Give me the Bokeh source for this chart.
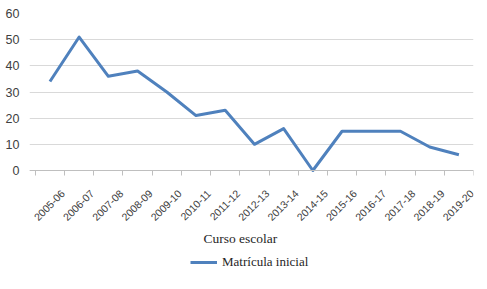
import math
from bokeh.plotting import figure
from bokeh.models import FixedTicker, Range1d, Legend, LegendItem, ColumnDataSource, Label
from bokeh.embed import file_html
from bokeh.resources import INLINE

cursos = ["2005-06", "2006-07", "2007-08", "2008-09", "2009-10", "2010-11", "2011-12",
          "2012-13", "2013-14", "2014-15", "2015-16", "2016-17", "2017-18", "2018-19", "2019-20"]
matricula = [34, 51, 36, 38, 30, 21, 23, 10, 16, 0, 15, 15, 15, 9, 6]
y_ticks = [0, 10, 20, 30, 40, 50, 60]

xpos = [i + 0.5 for i in range(len(cursos))]
label_shift = 0.44  # rotated labels end to the right of the category centre, as in the source
src = ColumnDataSource(dict(x=xpos, y=matricula))

# plot area: 60 at top (13px), 0 at 170px; frame continues to bottom to host axis labels + legend
y_top = 60
y_bottom = -119 / 157 * 60
x_left = -0.2  # small room so the first rotated label is not clipped

p = figure(width=487, height=289, output_backend="svg", toolbar_location=None,
           x_range=Range1d(x_left, len(cursos)), y_range=Range1d(y_bottom, y_top),
           min_border_left=29, min_border_right=14, min_border_top=13, min_border_bottom=0)
p.outline_line_color = None
p.background_fill_color = "white"
p.border_fill_color = "white"

r = p.line("x", "y", source=src, line_color="#4F81BD", line_width=3, line_join="round")

# x axis, drawn at y = 0
xa = p.xaxis[0]
xa.fixed_location = 0
label_pos = [x + label_shift for x in xpos]
xa.ticker = FixedTicker(ticks=label_pos, minor_ticks=list(range(len(cursos) + 1)))
xa.major_label_overrides = {x: c for x, c in zip(label_pos, cursos)}
xa.major_label_orientation = math.pi / 4
xa.major_label_text_font = "Liberation Sans"
xa.major_label_text_font_size = "10.5px"
xa.major_label_text_color = "#404040"
xa.major_label_standoff = 15
xa.major_tick_line_color = None
xa.minor_tick_line_color = "#bfbfbf"
xa.minor_tick_in = 0
xa.minor_tick_out = 5
xa.axis_line_color = "#bfbfbf"

p.add_layout(Label(x=7.02, y=-26, text="Curso escolar", text_align="center",
                   text_baseline="middle", text_font="Liberation Serif",
                   text_font_size="13.5px", text_color="#262626"))

# y axis
ya = p.yaxis[0]
ya.ticker = FixedTicker(ticks=y_ticks)
ya.axis_line_color = None
ya.major_tick_line_color = None
ya.minor_tick_line_color = None
ya.major_label_text_font = "Liberation Sans"
ya.major_label_text_font_size = "12.5px"
ya.major_label_text_color = "#404040"
ya.major_label_standoff = 4

p.xgrid.grid_line_color = None
p.ygrid.ticker = FixedTicker(ticks=y_ticks)
p.ygrid.grid_line_color = "#d9d9d9"

legend = Legend(items=[LegendItem(label="Matrícula inicial", renderers=[r])],
                orientation="horizontal", location=(161, 17),
                border_line_color=None, background_fill_alpha=0,
                label_text_font="Liberation Serif", label_text_font_size="13px",
                label_text_color="#262626", glyph_width=27, glyph_height=20,
                label_height=20, label_standoff=5, padding=0, margin=0)
p.add_layout(legend, "center")

open("out.html", "w").write(file_html(p, INLINE))
